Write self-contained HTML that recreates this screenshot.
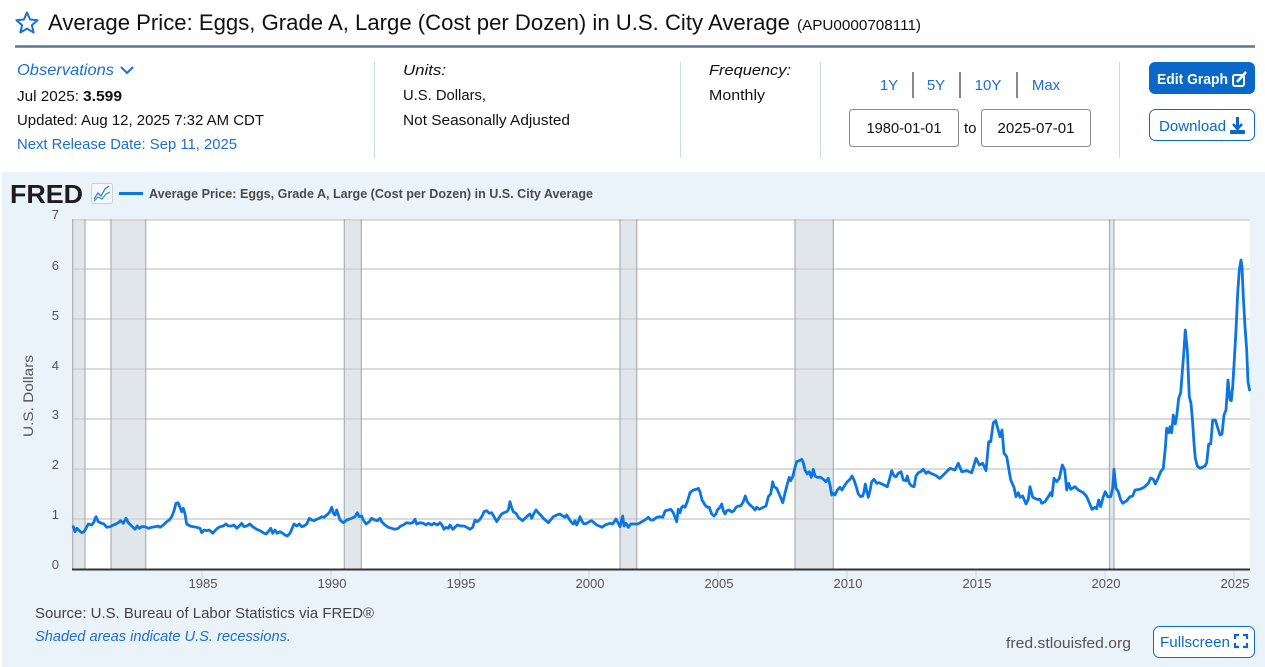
<!DOCTYPE html>
<html><head><meta charset="utf-8"><style>
html,body{margin:0;padding:0;background:#fff;}
svg{display:block;font-family:"Liberation Sans",Arial,sans-serif;}
</style></head><body>
<svg width="1265" height="667" viewBox="0 0 1265 667" xmlns="http://www.w3.org/2000/svg">
<rect x="0" y="0" width="1265" height="667" fill="#fff"/>
<!-- header -->
<polygon points="27,12.5 30.1,19.5 37.6,20.2 31.9,25.1 33.6,32.5 27,28.6 20.4,32.5 22.1,25.1 16.4,20.2 23.9,19.5" fill="none" stroke="#1b6fd1" stroke-width="2" stroke-linejoin="round"/>
<text x="48" y="30" font-size="22" fill="#111" textLength="742" lengthAdjust="spacingAndGlyphs">Average Price: Eggs, Grade A, Large (Cost per Dozen) in U.S. City Average</text>
<text x="797" y="30" font-size="15" fill="#111" textLength="124" lengthAdjust="spacingAndGlyphs">(APU0000708111)</text>
<line x1="15" y1="46.5" x2="1255" y2="46.5" stroke="#587694" stroke-width="2.5"/>

<text x="17" y="75" font-size="16" font-style="italic" fill="#1b6fd1" textLength="97" lengthAdjust="spacingAndGlyphs">Observations</text>
<polyline points="121,67 127,73 133,67" fill="none" stroke="#1b6fd1" stroke-width="2"/>
<text x="17" y="101" font-size="15" fill="#111" textLength="62" lengthAdjust="spacingAndGlyphs">Jul 2025:</text>
<text x="83" y="101" font-size="15" font-weight="bold" fill="#111" textLength="39" lengthAdjust="spacingAndGlyphs">3.599</text>
<text x="17" y="125" font-size="15" fill="#111" textLength="247" lengthAdjust="spacingAndGlyphs">Updated: Aug 12, 2025 7:32 AM CDT</text>
<text x="17" y="149" font-size="15" fill="#1b6fd1" textLength="220" lengthAdjust="spacingAndGlyphs">Next Release Date: Sep 11, 2025</text>

<line x1="374.5" y1="62" x2="374.5" y2="158" stroke="#c8dce9" stroke-width="1"/>
<line x1="680.5" y1="62" x2="680.5" y2="158" stroke="#c8dce9" stroke-width="1"/>
<line x1="820.5" y1="62" x2="820.5" y2="158" stroke="#c8dce9" stroke-width="1"/>
<line x1="1119.5" y1="62" x2="1119.5" y2="158" stroke="#c8dce9" stroke-width="1"/>

<text x="403" y="75" font-size="15" font-style="italic" fill="#111" textLength="43" lengthAdjust="spacingAndGlyphs">Units:</text>
<text x="403" y="100" font-size="15" fill="#111" textLength="83" lengthAdjust="spacingAndGlyphs">U.S. Dollars,</text>
<text x="403" y="125" font-size="15" fill="#111" textLength="167" lengthAdjust="spacingAndGlyphs">Not Seasonally Adjusted</text>

<text x="709" y="75" font-size="15" font-style="italic" fill="#111" textLength="82" lengthAdjust="spacingAndGlyphs">Frequency:</text>
<text x="709" y="100" font-size="15" fill="#111" textLength="56" lengthAdjust="spacingAndGlyphs">Monthly</text>

<text x="889" y="90" font-size="15" fill="#1b6fd1" text-anchor="middle">1Y</text>
<text x="936" y="90" font-size="15" fill="#1b6fd1" text-anchor="middle">5Y</text>
<text x="988" y="90" font-size="15" fill="#1b6fd1" text-anchor="middle">10Y</text>
<text x="1046" y="90" font-size="15" fill="#1b6fd1" text-anchor="middle">Max</text>
<line x1="913" y1="72" x2="913" y2="98" stroke="#111" stroke-width="1"/>
<line x1="960" y1="72" x2="960" y2="98" stroke="#111" stroke-width="1"/>
<line x1="1017" y1="72" x2="1017" y2="98" stroke="#111" stroke-width="1"/>

<rect x="849.5" y="109.5" width="109" height="37" rx="3" fill="#fff" stroke="#8a8a8a" stroke-width="1"/>
<text x="904" y="133" font-size="15" fill="#111" text-anchor="middle" textLength="75" lengthAdjust="spacingAndGlyphs">1980-01-01</text>
<text x="964" y="133" font-size="15" fill="#111">to</text>
<rect x="981.5" y="109.5" width="109" height="37" rx="3" fill="#fff" stroke="#8a8a8a" stroke-width="1"/>
<text x="1036" y="133" font-size="15" fill="#111" text-anchor="middle" textLength="77" lengthAdjust="spacingAndGlyphs">2025-07-01</text>

<rect x="1149" y="62" width="106" height="32" rx="6" fill="#0a68c8"/>
<text x="1157" y="84" font-size="15" font-weight="bold" fill="#fff" textLength="71" lengthAdjust="spacingAndGlyphs">Edit Graph</text>
<rect x="1233" y="75" width="11" height="11" rx="2" fill="none" stroke="#fff" stroke-width="2"/>
<line x1="1237" y1="82" x2="1246" y2="72" stroke="#fff" stroke-width="2.5"/>
<rect x="1149.5" y="109.5" width="105" height="31" rx="6" fill="#fff" stroke="#0a68c8" stroke-width="1"/>
<text x="1159" y="131" font-size="15" fill="#0a68c8" textLength="67" lengthAdjust="spacingAndGlyphs">Download</text>
<line x1="1237.5" y1="117" x2="1237.5" y2="128" stroke="#0a68c8" stroke-width="3"/>
<polyline points="1233,124 1237.5,129 1242,124" fill="none" stroke="#0a68c8" stroke-width="2.5"/>
<rect x="1230" y="130" width="15" height="4" rx="1" fill="#0a68c8"/>

<!-- chart container -->
<rect x="2" y="172" width="1263" height="495" fill="#eaf2fa"/>
<text x="10" y="203" font-size="26" font-weight="bold" fill="#1e1b1c" textLength="73" lengthAdjust="spacingAndGlyphs">FRED</text>
<rect x="91.5" y="183.5" width="21" height="20" rx="2" fill="#f6f9fc" stroke="#c9d3dd" stroke-width="1"/>
<polyline points="94,199 98,193 101,196 105,189 109,186" fill="none" stroke="#3b7dd8" stroke-width="1.3"/>
<polyline points="94,201 98,197 102,199 106,194 110,192" fill="none" stroke="#3aa88a" stroke-width="1.3"/>
<line x1="119" y1="193.5" x2="143" y2="193.5" stroke="#0b75e1" stroke-width="3"/>
<text x="149" y="198" font-size="12.5" font-weight="bold" fill="#4a4a4a" textLength="444" lengthAdjust="spacingAndGlyphs">Average Price: Eggs, Grade A, Large (Cost per Dozen) in U.S. City Average</text>

<!-- plot area -->
<rect x="72" y="219" width="1178" height="350" fill="#fff"/>
<!-- recessions -->
<g fill="#e1e6eb">
<rect x="72.5" y="219" width="12.5" height="350"/>
<rect x="111" y="219" width="34.7" height="350"/>
<rect x="344.3" y="219" width="17" height="350"/>
<rect x="620" y="219" width="16.7" height="350"/>
<rect x="795" y="219" width="38.3" height="350"/>
<rect x="1109.5" y="219" width="4.5" height="350"/>
</g>
<!-- gridlines -->
<g stroke="#cfcfcf" stroke-width="1.6">
<line x1="72" y1="519" x2="1250" y2="519"/>
<line x1="72" y1="469" x2="1250" y2="469"/>
<line x1="72" y1="419" x2="1250" y2="419"/>
<line x1="72" y1="369" x2="1250" y2="369"/>
<line x1="72" y1="319" x2="1250" y2="319"/>
<line x1="72" y1="269" x2="1250" y2="269"/>
<line x1="72" y1="220" x2="1250" y2="220"/>
</g>
<g stroke="#a9aeb3" stroke-width="1.2">
<line x1="72.7" y1="219" x2="72.7" y2="569"/>
<line x1="85" y1="219" x2="85" y2="569"/>
<line x1="111" y1="219" x2="111" y2="569"/>
<line x1="145.7" y1="219" x2="145.7" y2="569"/>
<line x1="344.3" y1="219" x2="344.3" y2="569"/>
<line x1="361.3" y1="219" x2="361.3" y2="569"/>
<line x1="620" y1="219" x2="620" y2="569"/>
<line x1="636.7" y1="219" x2="636.7" y2="569"/>
<line x1="795" y1="219" x2="795" y2="569"/>
<line x1="833.3" y1="219" x2="833.3" y2="569"/>
<line x1="1109.5" y1="219" x2="1109.5" y2="569"/>
<line x1="1114" y1="219" x2="1114" y2="569"/>
</g>
<!-- y labels -->
<g font-size="13" fill="#555" text-anchor="end">
<text x="59" y="569">0</text>
<text x="59" y="519">1</text>
<text x="59" y="469">2</text>
<text x="59" y="419">3</text>
<text x="59" y="370">4</text>
<text x="59" y="320">5</text>
<text x="59" y="270">6</text>
<text x="59" y="219">7</text>
</g>
<text transform="translate(33,396) rotate(-90)" font-size="14" fill="#555" text-anchor="middle" textLength="82" lengthAdjust="spacingAndGlyphs">U.S. Dollars</text>

<!-- series -->
<polyline fill="none" stroke="#0b75e1" stroke-width="2.8" stroke-linejoin="round" stroke-linecap="round" points="
73.3,526.7 75.0,531.7 76.7,528.3 79.3,530.7 81.7,532.7 84.0,531.7 86.0,528.3 88.3,524.0 91.7,525.0 94.0,521.7 96.0,516.7 98.3,521.7 101.7,523.3 104.0,524.0 106.7,527.3 110.0,526.7 113.3,525.0 116.0,524.0 118.3,522.7 120.7,520.7 123.3,523.3 126.0,518.3 128.3,522.7 131.7,526.0 135.0,529.3 137.3,526.0 139.3,528.3 141.7,526.7 145.0,526.7 148.3,528.3 151.7,527.3 155.0,526.7 158.3,526.0 160.0,527.3 163.3,525.0 166.7,521.7 169.3,520.0 171.7,516.7 174.0,510.7 176.0,503.3 178.0,502.7 180.0,507.3 181.7,511.7 183.3,508.3 185.0,514.0 186.7,524.0 190.0,526.0 193.3,526.7 196.7,527.3 200.0,528.3 201.7,532.7 204.0,530.0 206.7,530.7 209.3,530.0 212.7,533.3 215.0,530.7 217.3,528.3 220.0,526.7 223.3,526.0 226.0,524.0 228.3,526.0 231.7,526.0 234.0,525.0 236.7,528.3 239.3,526.0 241.7,523.3 244.0,526.7 246.7,526.0 250.0,524.0 252.7,526.7 256.7,529.3 260.0,530.7 263.3,532.7 266.0,534.0 268.3,531.7 270.7,528.3 272.7,533.3 275.0,530.0 277.3,533.3 280.0,531.7 282.7,533.3 285.0,535.0 287.3,536.0 290.0,533.3 291.7,529.3 294.0,524.0 296.7,526.0 299.3,524.0 301.7,526.7 304.0,526.0 306.7,524.0 309.3,518.3 311.7,520.0 314.0,520.7 316.7,519.3 319.3,518.3 321.7,516.7 324.0,517.3 326.7,515.0 329.3,512.7 331.7,507.3 333.3,513.3 335.0,515.0 336.7,510.0 338.3,515.0 340.0,520.0
343.3,522.7 346.7,520.0 351.7,518.3 355.0,516.7 357.3,512.7 359.3,516.7 361.7,516.0 363.3,520.0 366.0,524.0 369.3,521.7 371.7,518.3 375.0,520.0 377.3,520.7 380.0,518.3 381.7,521.7 385.0,525.0 388.3,527.3 391.7,528.3 395.0,529.3 398.3,528.3 400.7,526.0 403.3,525.0 406.7,522.7 410.0,523.3 412.7,522.7 415.0,519.3 416.7,524.0 420.0,522.7 423.3,523.3 426.0,525.0 428.3,523.3 431.7,525.0 434.0,523.3 437.3,525.0 440.0,522.7 442.0,525.0 444.0,529.3 446.0,527.3 448.3,528.3 450.0,525.0 452.7,529.3 455.0,527.3 457.3,525.0 460.7,526.0 464.0,526.0 466.7,527.3 470.0,529.3 472.7,527.3 475.0,520.0 477.3,521.7 480.0,519.3 482.7,515.0 484.0,511.7 486.7,510.7 489.3,513.3 491.7,512.7 494.0,516.7 496.7,521.7 499.3,517.3 501.7,514.0 504.0,512.7 506.7,511.7 508.3,510.0 510.0,501.7 511.3,506.7 513.3,511.7 516.0,513.3 518.3,517.3 520.7,519.3 522.7,520.7 525.0,518.3 527.3,516.0 530.0,514.0 531.7,518.3 534.0,513.3 536.0,510.0 538.3,512.7 540.7,515.0 543.3,518.3 546.0,520.7 548.3,522.7 550.0,520.7 553.3,516.7 556.7,515.0 560.0,514.0 562.7,516.0 565.0,517.3 566.7,515.0 569.3,519.3 571.7,522.7 573.3,524.0 575.0,520.7 576.7,525.0 578.3,521.7 580.0,516.7 581.7,520.7 584.0,524.0 586.7,523.3 589.3,521.7 591.7,520.7 594.0,522.7 596.7,525.0 599.3,526.0
602,527.3 605,525 610,523.3 612.7,524 616,519 618.3,523.3 620,526.7 622.7,516 624,526 626,523.3 628.3,527.3 630.7,524 633.3,524 636.7,524 639.3,523.3
641.7,521.7 645.0,520.0 648.3,517.3 650.7,520.0 653.3,520.0 656.7,517.3 660.0,516.7 662.7,517.3 665.3,510.7 668.3,510.0 670.7,509.3 673.3,512.7 676.7,521.7 678.3,509.3 680.0,512.7 681.7,507.3 683.3,506.0 685.0,507.3 687.3,501.7 690.0,492.7 693.3,490.0 696.7,489.3 698.3,488.3 700.0,491.7 702.0,500.0 705.0,505.0 707.3,507.3 709.3,507.3 711.7,514.0 714.0,516.0 716.0,514.0 717.3,510.0 720.0,507.3 721.7,504.0 723.3,510.7 725.0,514.0 726.7,510.7 729.3,510.0 731.7,512.0 734.0,510.7 736.0,507.3 738.3,506.0 740.7,506.0 743.3,501.7 745.3,496.0 747.3,501.7 750.0,505.0 752.7,507.3 755.0,510.0 756.7,507.3 759.3,509.3 763.3,507.3 766.0,506.0 768.3,496.7 770.7,494.0 772.7,481.7 774.0,486.7 776.7,488.3 780.0,496.0 782.7,502.7 785.0,493.3 787.3,484.0 789.3,477.3 790.7,480.7 792.7,476.7 795.0,467.3 796.7,461.7 799.3,460.7 801.7,459.3 803.3,462.7 805.0,470.0 807.3,474.0 809.3,471.7 811.3,477.3 813.3,469.3 815.0,476.0 817.3,477.3 820.7,477.3 823.3,479.3 826.0,481.7 828.3,478.3 830.0,485.0 831.7,495.0 833.3,493.3 835.0,495.0 837.3,490.0 840.0,487.3 842.0,490.0 845.0,485.0 847.3,481.7 850.0,479.3 852.0,476.0 854.0,480.0 856.0,486.0 858.3,494.0 860.7,496.7 862.7,496.0 864.0,491.7 865.3,484.0 866.7,490.7 868.3,497.3 870.0,490.7 871.7,481.7 874.0,479.3 876.7,483.3 879.3,482.7 881.7,484.0 884.0,485.0 887.3,486.7 889.3,480.0 891.7,470.7 894.0,476.0 896.0,476.7 898.3,473.3 901.0,471.7 903.3,480.0 906.0,480.7 907.3,476.0 909.3,483.3 911.7,486.0 914.0,486.7 916.0,476.0 918.3,472.7 920.7,471.7 923.3,469.3 926.0,473.3 928.3,471.7 930.7,473.3 933.3,474.3 936.7,476.0 939.3,478.3
940.0,478.3 943.3,475.0 950.0,468.3 955.0,470.0 958.3,463.3 961.7,471.7 966.7,470.7 971.7,472.7 976.0,458.3 979.3,465.0 982.7,463.3 986.0,470.7 988.7,441.7 990.7,441.7 993.3,422.7 995.7,420.7 1000.0,436.7 1002.0,430.0 1004.0,453.3 1006.7,456.7 1010.7,480.0 1014.0,487.3 1016.0,496.7 1018.3,492.7 1020.0,497.3 1022.7,496.0 1026.0,504.0 1028.3,499.3 1030.0,486.7 1032.7,497.3 1036.7,499.3 1040.0,499.3 1041.7,503.3 1045.0,501.7 1048.3,496.7 1050.7,492.7 1052.0,496.0 1054.0,478.3 1056.7,481.7 1059.3,478.3 1062.3,465.0 1064.7,470.0 1066.7,490.0 1068.7,483.3 1070.7,489.3 1075.0,486.7 1078.3,490.0 1083.3,492.7 1086.7,496.7 1089.3,502.7 1092.0,509.3 1095.0,507.3 1096.7,508.7 1098.7,500.0 1100.7,506.7 1103.3,496.7 1105.3,491.7 1107.7,496.7 1110.7,496.7 1112.7,488.3 1114.0,469.3 1116.0,488.3 1118.3,491.7 1120.7,500.0 1122.7,503.3 1126.7,500.7 1130.0,496.7 1132.7,496.0 1135.0,490.0 1140.0,489.3 1144.0,487.3 1148.3,483.3 1150.7,478.0 1153.3,479.3 1155.3,484.0 1158.3,477.7 1160.7,471.7 1163.3,468.3 1165.3,448.3 1166.7,428.3 1168.7,432.7 1170.0,426.7 1171.7,432.7 1173.3,415.0 1175.3,424.0 1176.7,416.0 1178.7,398.3 1180.7,392.7 1182.7,366.7 1184.0,350.0 1185.3,330.0 1187.3,350.0 1189.3,396.7 1191.0,403.3 1192.7,423.3 1194.0,443.3 1195.3,458.3 1197.3,466.0 1200.0,468.3 1205.0,466.0 1206.7,462.7 1208.7,444.0 1210.7,444.0 1212.7,420.0 1215.3,420.0 1220.0,435.0 1222.0,434.0 1224.0,415.0 1226.0,410.0 1228.0,380.0 1230.0,400.0 1231.3,400.7 1232.7,386.7 1234.3,360.0 1236.0,330.0 1237.7,293.3 1239.3,270.0 1241.0,260.0 1242.0,266.7 1243.3,296.7 1245.0,326.7 1246.7,350.0 1248.0,381.7 1249.5,390.0"/>

<!-- x axis -->
<line x1="72" y1="569.5" x2="1250" y2="569.5" stroke="#333" stroke-width="2"/>
<g stroke="#ccd6eb" stroke-width="1">
<line x1="202" y1="571" x2="202" y2="579"/>
<line x1="331" y1="571" x2="331" y2="579"/>
<line x1="460" y1="571" x2="460" y2="579"/>
<line x1="589" y1="571" x2="589" y2="579"/>
<line x1="718" y1="571" x2="718" y2="579"/>
<line x1="847" y1="571" x2="847" y2="579"/>
<line x1="976" y1="571" x2="976" y2="579"/>
<line x1="1105" y1="571" x2="1105" y2="579"/>
<line x1="1234" y1="571" x2="1234" y2="579"/>
</g>
<g font-size="13" fill="#555" text-anchor="middle">
<text x="203" y="588">1985</text>
<text x="332" y="588">1990</text>
<text x="461" y="588">1995</text>
<text x="590" y="588">2000</text>
<text x="719" y="588">2005</text>
<text x="848" y="588">2010</text>
<text x="977" y="588">2015</text>
<text x="1106" y="588">2020</text>
<text x="1235" y="588">2025</text>
</g>

<text x="35" y="618" font-size="15" fill="#444" textLength="339" lengthAdjust="spacingAndGlyphs">Source: U.S. Bureau of Labor Statistics via FRED®</text>
<text x="35" y="641" font-size="15" font-style="italic" fill="#1b6fd1" textLength="256" lengthAdjust="spacingAndGlyphs">Shaded areas indicate U.S. recessions.</text>
<text x="1006" y="648" font-size="15" fill="#555" textLength="125" lengthAdjust="spacingAndGlyphs">fred.stlouisfed.org</text>
<rect x="1153.5" y="626.5" width="101" height="31" rx="6" fill="#fff" stroke="#0a68c8" stroke-width="1"/>
<text x="1160" y="647" font-size="15" fill="#0a68c8" textLength="70" lengthAdjust="spacingAndGlyphs">Fullscreen</text>
<g fill="none" stroke="#0a68c8" stroke-width="2.2">
<polyline points="1235,639 1235,635 1239,635"/>
<polyline points="1243,635 1247,635 1247,639"/>
<polyline points="1235,643 1235,647 1239,647"/>
<polyline points="1243,647 1247,647 1247,643"/>
</g>
</svg>
</body></html>
